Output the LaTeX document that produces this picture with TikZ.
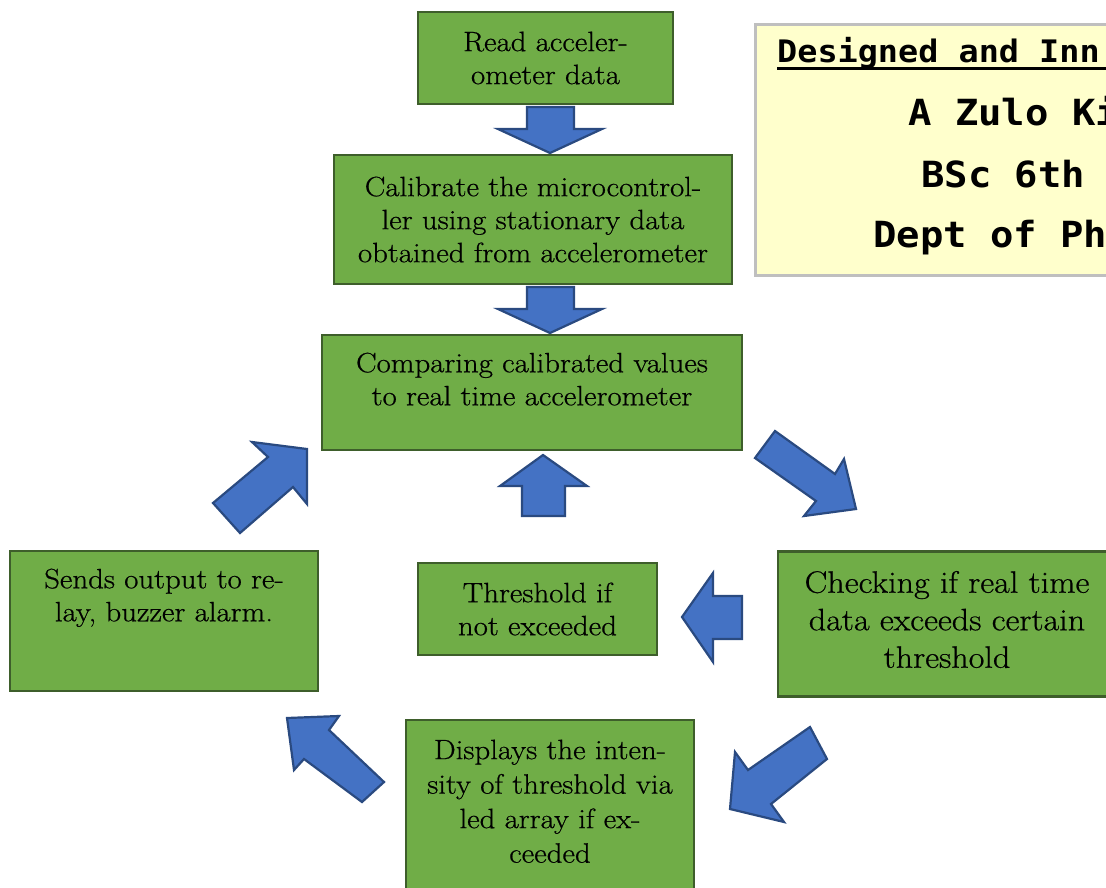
\documentclass[tikz,border=0pt]{standalone}
\usepackage{fontspec}
\setmainfont{Latin Modern Roman}[FakeStretch=1.1, FakeBold=0.6]
\newfontfamily\monof[FakeStretch=1.08]{DejaVu Sans Mono}
\definecolor{gfill}{HTML}{70AD47}
\definecolor{gline}{HTML}{3E5E2B}
\definecolor{bfill}{HTML}{4472C4}
\definecolor{bline}{HTML}{2A4A80}
\definecolor{yfill}{HTML}{FFFFCC}
\definecolor{yline}{HTML}{BFBFBF}
\tikzset{
  gbox/.style={draw=gline, fill=gfill, line width=2.5pt, inner sep=0pt, align=center,
    font=\fontsize{28}{33}\selectfont},
  txt/.style={inner sep=0pt, align=center, font=\fontsize{28}{33}\selectfont},
  barrow/.style={draw=bline, fill=bfill, line width=2.2pt, line join=miter},
  ttl/.style={inner sep=0pt, anchor=base west, font=\monof\bfseries\fontsize{36}{40}\selectfont},
}
\begin{document}
\begin{tikzpicture}[x=1pt,y=-1pt]
\useasboundingbox (0,0) rectangle (1106,887);
\clip (0,0) rectangle (1106,887);

% title box
\node[draw=yline, fill=yfill, line width=3pt, minimum width=545pt, minimum height=251pt, inner sep=0pt] (titlebox) at (1027.5,149.5) {};
\node[ttl, font=\monof\bfseries\fontsize{31}{36}\selectfont] (t1) at (777,62) {Designed and Inn};
\coordinate (u1) at (777,68.5);
\coordinate (u2) at (1106,68.5);
\draw[line width=3.5pt] (u1) -- (u2);
\node[ttl] (t2) at (908,125) {A Zulo Ki};
\node[ttl] (t3) at (921,187) {BSc 6th};
\node[ttl] (t4) at (873,247) {Dept of Ph};

% boxes
\node[gbox, minimum width=255pt, minimum height=92pt] (read) at (545.5,58) {Read acceler-\\ometer data};
\node[gbox, minimum width=398pt, minimum height=129pt] (calib) at (533,219.5)
  {Calibrate the microcontrol-\\ler using stationary data\\obtained from accelerometer};
\node[gbox, minimum width=420pt, minimum height=115pt] (comp) at (532,392.5) {};
\node[txt, anchor=north] (comptxt) at (532,352.5) {Comparing calibrated values\\to real time accelerometer};
\node[gbox, minimum width=308pt, minimum height=140pt] (sends) at (164,621) {};
\node[txt, anchor=north] (sendstxt) at (164,568.5) {Sends output to re-\\lay, buzzer alarm.};
\node[gbox, minimum width=239pt, minimum height=92pt] (thresh) at (537.5,609) {Threshold if\\not exceeded};
\node[gbox, minimum width=338pt, minimum height=145pt] (check) at (947,624) {};
\node[txt, font=\fontsize{31}{37.5}\selectfont] (checktxt) at (947,619.5)
  {Checking if real time\\data exceeds certain\\threshold};
\node[gbox, minimum width=288pt, minimum height=181pt] (disp) at (550,810.5) {};
\node[txt, anchor=north, font=\fontsize{28}{34.5}\selectfont] (disptxt) at (550,739.5)
  {Displays the inten-\\sity of threshold via\\led array if ex-\\ceeded};

% block arrows
\draw[barrow] (527,107) -- (574,107) -- (574,129) -- (602,129) -- (550,153) -- (498,129) -- (527,129) -- cycle;
\draw[barrow] (527,287) -- (574,287) -- (574,309) -- (602,309) -- (550,333) -- (498,309) -- (527,309) -- cycle;
\draw[barrow] (522,516) -- (565,516) -- (565,486) -- (587,486) -- (543,455) -- (500,486) -- (522,486) -- cycle;
\draw[barrow] (742,596) -- (742,639) -- (713,639) -- (713,662) -- (682,617) -- (713,573) -- (713,596) -- cycle;
\draw[barrow] (755,458) -- (775,431) -- (835,474) -- (844,459) -- (856,509) -- (804,516) -- (816,501) -- cycle;
\draw[barrow] (213,503) -- (268,457) -- (252,442) -- (307,449) -- (307,504) -- (293,487) -- (240,533) -- cycle;
\draw[barrow] (810,727) -- (827,759) -- (771,804) -- (784,822) -- (730,809) -- (735,752) -- (748,770) -- cycle;
\draw[barrow] (287,718) -- (339,716) -- (329,730) -- (384,782) -- (362,802) -- (304,759) -- (294,770) -- cycle;
\end{tikzpicture}
\end{document}
